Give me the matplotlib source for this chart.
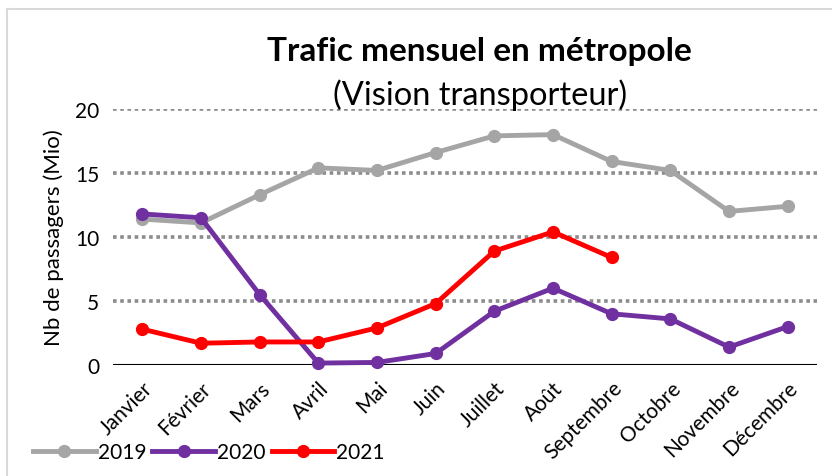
import matplotlib
matplotlib.use("Agg")
import matplotlib.pyplot as plt
from matplotlib.lines import Line2D

months = ["Janvier", "Février", "Mars", "Avril", "Mai", "Juin", "Juillet",
          "Août", "Septembre", "Octobre", "Novembre", "Décembre"]
v2019 = [11.4, 11.1, 13.3, 15.4, 15.2, 16.6, 17.9, 18.0, 15.9, 15.2, 12.0, 12.4]
v2020 = [11.8, 11.5, 5.5, 0.15, 0.2, 0.9, 4.2, 6.0, 4.0, 3.6, 1.4, 3.0]
v2021 = [2.8, 1.7, 1.8, 1.8, 2.9, 4.8, 8.9, 10.4, 8.4]
yticks = [0, 5, 10, 15, 20]

plt.rcParams['font.family'] = ['Lato', 'DejaVu Sans']

fig = plt.figure(figsize=(8.32, 4.77), dpi=100)
ax = fig.add_axes([113/832, 1-366/477, 704/832, 256/477])

# chart border
fig.add_artist(Line2D([7/832, 1], [1-10/477, 1-10/477], transform=fig.transFigure,
                      color='#D9D9D9', lw=1.5))
fig.add_artist(Line2D([7/832, 7/832], [0, 1-10/477], transform=fig.transFigure,
                      color='#D9D9D9', lw=1.5))

x = list(range(len(months)))
ax.plot(x, v2019, color='#A5A5A5', lw=3.5, marker='o', ms=8.5, label='2019', clip_on=False, zorder=3)
ax.plot(x, v2020, color='#7030A0', lw=3.5, marker='o', ms=8.5, label='2020', clip_on=False, zorder=4)
ax.plot(x[:len(v2021)], v2021, color='#FF0000', lw=3.5, marker='o', ms=8.5, label='2021', clip_on=False, zorder=5)

ax.set_xlim(-0.5, len(months) - 0.5)
ax.set_ylim(0, 20)
ax.set_yticks(yticks)
ax.set_yticklabels([str(v) for v in yticks], fontsize=15)
for yv in yticks[1:]:
    ax.axhline(yv, color='#8C8C8C', lw=2.6, ls=(0, (1, 1.0)), zorder=1)
ax.axhline(0, color='black', lw=1.5, zorder=2)

ax.set_xticks(x)
ax.set_xticklabels(months, rotation=45, ha='right', rotation_mode='anchor', fontsize=15)
ax.tick_params(axis='both', length=0)
ax.tick_params(axis='x', pad=9)
ax.tick_params(axis='y', pad=10)
for s in ax.spines.values():
    s.set_visible(False)

ax.set_ylabel("Nb de passagers (Mio)", fontsize=16, labelpad=8)

fig.text(479/832, 1-52/477, "Trafic mensuel en métropole", ha='center', va='center',
         fontsize=24, fontweight='bold')
fig.text(480/832, 1-95/477, "(Vision transporteur)", ha='center', va='center', fontsize=23.5)

leg = fig.legend(loc='center left', bbox_to_anchor=(33/832, 1-453/477), ncol=3, frameon=False,
                 fontsize=15, handlelength=3.0, handletextpad=0.1, columnspacing=0.3,
                 borderaxespad=0, borderpad=0)

fig.savefig("out.png", dpi=100)
